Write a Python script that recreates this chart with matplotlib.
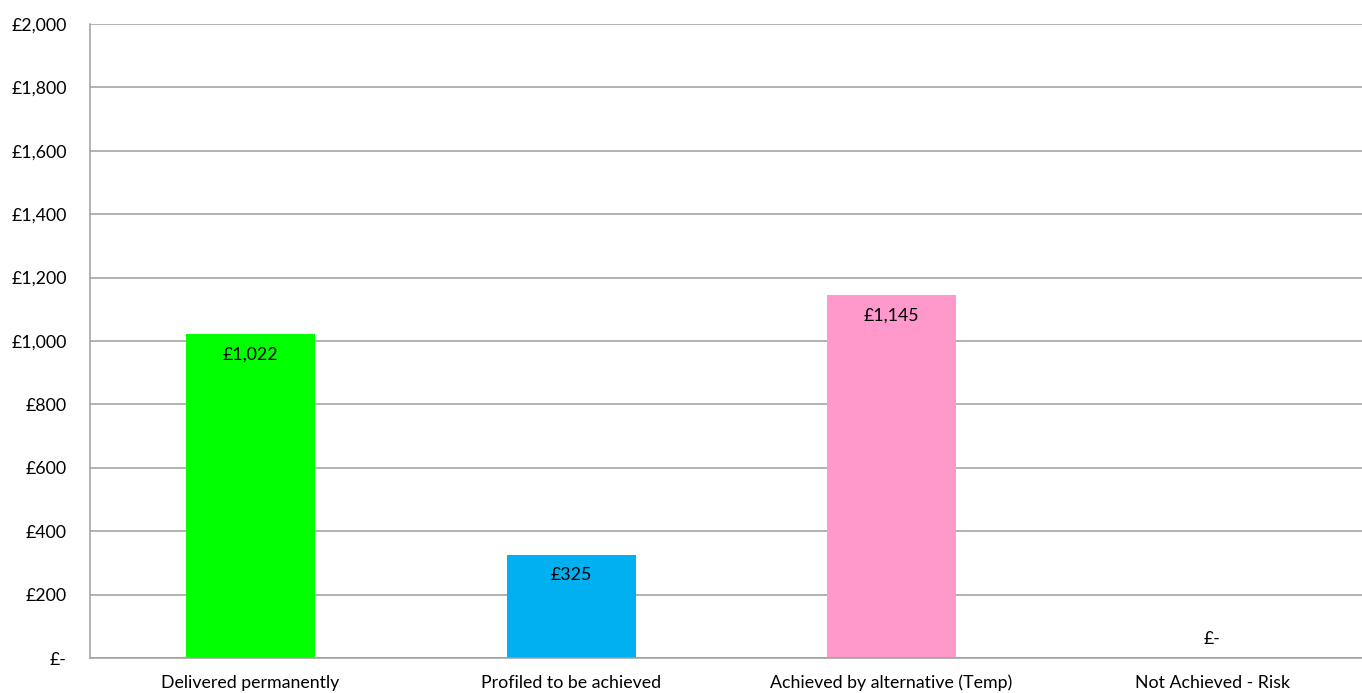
import matplotlib.pyplot as plt
import numpy as np

categories = ['Delivered permanently', 'Profiled to be achieved',
              'Achieved by alternative (Temp)', 'Not Achieved - Risk']
values = [1022, 325, 1145, 0]
colors = ['#00FF00', '#00B0F0', '#FF99CC', '#FFFFFF']
yticks = [0, 200, 400, 600, 800, 1000, 1200, 1400, 1600, 1800, 2000]


def money(v):
    return '£-' if v == 0 else f'£{v:,.0f}'


plt.rcParams['font.family'] = ['Lato', 'DejaVu Sans']
fs = 12.8
fig = plt.figure(figsize=(13.62, 6.93), dpi=100)
# plot area runs a little past the right edge of the picture, as in the original
ax = fig.add_axes([0.0663, 0.0505, 0.9413, 0.915])

x = np.arange(len(categories))
bars = ax.bar(x, values, width=0.4025, color=colors, zorder=2)

for b, v in zip(bars, values):
    cx = b.get_x() + b.get_width() / 2
    if v > 0:
        ax.annotate(money(v), (cx, v), xytext=(0, -9), textcoords='offset points',
                    ha='center', va='top', fontsize=fs, color='black')
    else:
        ax.annotate(money(v), (cx, v), xytext=(0, 8), textcoords='offset points',
                    ha='center', va='bottom', fontsize=fs, color='black')

ax.set_xlim(-0.5, len(categories) - 0.5)
ax.set_ylim(0, 2000)
ax.set_yticks(yticks)
ax.set_yticklabels([money(v) for v in yticks], fontsize=fs)
ax.set_xticks(x)
ax.set_xticklabels(categories, fontsize=fs)
ax.tick_params(length=0)
ax.tick_params(axis='y', pad=17)
ax.tick_params(axis='x', pad=12)
ax.yaxis.grid(True, color='#9E9E9E', linewidth=1.1, zorder=0)
ax.set_axisbelow(True)
for s in ['top', 'right']:
    ax.spines[s].set_visible(False)
for s in ['left', 'bottom']:
    ax.spines[s].set_color('#9E9E9E')
    ax.spines[s].set_linewidth(1.1)

fig.savefig('out.png', dpi=100)
